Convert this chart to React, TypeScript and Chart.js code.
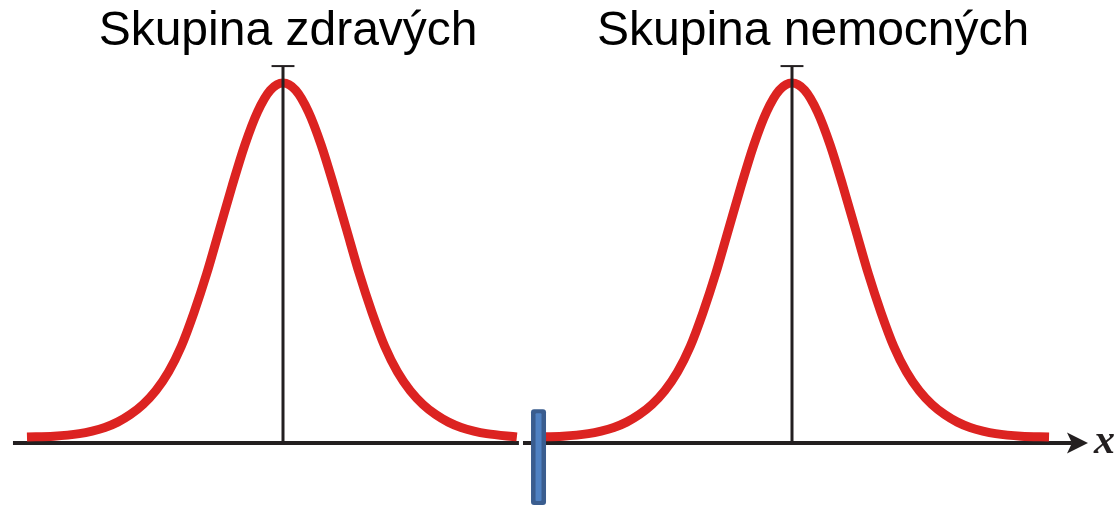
import React, { useEffect, useRef } from "react";
import { Chart, registerables } from "chart.js";

Chart.register(...registerables);

// ---- Data (x in arbitrary units, y = relative frequency, peak = 1) ----
const HEALTHY_X = [
  -0.06, 1, 2, 2.5, 3, 3.5, 4, 4.5, 5, 5.5, 6, 6.5, 7, 7.5, 8, 8.5, 9, 9.5, 10, 10.5, 11, 11.5, 12, 12.5, 13,
  13.5, 14, 14.5, 15, 15.5, 16, 16.5, 17, 17.5, 18, 19.19,
];
const HEALTHY_Y = [
  0.017, 0.019, 0.026, 0.033, 0.043, 0.058, 0.079, 0.107, 0.145, 0.197, 0.268, 0.362, 0.47, 0.592, 0.714, 0.828,
  0.92, 0.98, 1.0, 0.98, 0.92, 0.828, 0.714, 0.592, 0.47, 0.362, 0.268, 0.197, 0.145, 0.107, 0.079, 0.058, 0.043,
  0.033, 0.026, 0.017,
];
const SICK_X = [
  19.95, 21, 22, 22.5, 23, 23.5, 24, 24.5, 25, 25.5, 26, 26.5, 27, 27.5, 28, 28.5, 29, 29.5, 30, 30.5, 31, 31.5,
  32, 32.5, 33, 33.5, 34, 34.5, 35, 35.5, 36, 36.5, 37, 37.5, 38, 39, 40.1,
];
const SICK_Y = [
  0.017, 0.019, 0.026, 0.033, 0.043, 0.058, 0.079, 0.107, 0.145, 0.197, 0.268, 0.362, 0.47, 0.592, 0.714, 0.828,
  0.92, 0.98, 1.0, 0.98, 0.92, 0.828, 0.714, 0.592, 0.47, 0.362, 0.268, 0.197, 0.145, 0.107, 0.079, 0.058, 0.043,
  0.033, 0.026, 0.019, 0.017,
];
const MEANS = [10, 30];
const MEAN_LINE_TOP = 1.047;
const CAP_HALF = 0.45;
const TITLES = ["Skupina zdravých", "Skupina nemocných"];
const TITLE_X = [10.2, 30.83];
const CUTOFF = 20.04;
const MARKER_TOP = 0.094;
const MARKER_BOTTOM = -0.172;
const AXIS_SEGMENTS = [
  [-0.61, 19.27],
  [19.43, 41.0],
];
const ARROW_TIP = 41.63;
const AXIS_LABEL = "x";

// ---- Scale bounds ----
const X_MIN = -1.12;
const X_MAX = 42.849;
const Y_MAX = 443 / 360;
const Y_MIN = Y_MAX - 507 / 360;

const RED = "#dc2321";
const INK = "#231f20";

const toPoints = (xs: number[], ys: number[]) => xs.map((x, i) => ({ x, y: ys[i] }));

const decorPlugin = {
  id: "decor",
  beforeDatasetsDraw(chart: any) {
    const { ctx, scales } = chart;
    const xs = scales.x;
    const ys = scales.y;
    const y0 = ys.getPixelForValue(0);
    ctx.save();
    ctx.strokeStyle = INK;
    ctx.lineWidth = 4;
    ctx.lineCap = "butt";
    AXIS_SEGMENTS.forEach(([a, b]) => {
      ctx.beginPath();
      ctx.moveTo(xs.getPixelForValue(a), y0);
      ctx.lineTo(xs.getPixelForValue(b), y0);
      ctx.stroke();
    });
    const tip = xs.getPixelForValue(ARROW_TIP);
    ctx.fillStyle = INK;
    ctx.beginPath();
    ctx.moveTo(tip, y0);
    ctx.lineTo(tip - 21, y0 - 10.5);
    ctx.lineTo(tip - 16, y0);
    ctx.lineTo(tip - 21, y0 + 10.5);
    ctx.closePath();
    ctx.fill();
    ctx.restore();
  },
  afterDatasetsDraw(chart: any) {
    const { ctx, scales } = chart;
    const xs = scales.x;
    const ys = scales.y;
    ctx.save();
    // cutoff marker
    const cx = xs.getPixelForValue(CUTOFF);
    const top = ys.getPixelForValue(MARKER_TOP);
    const bottom = ys.getPixelForValue(MARKER_BOTTOM);
    ctx.fillStyle = "#3a5d8f";
    ctx.beginPath();
    (ctx as any).roundRect(cx - 7.5, top, 15, bottom - top, 3);
    ctx.fill();
    ctx.fillStyle = "#4f81c2";
    ctx.beginPath();
    (ctx as any).roundRect(cx - 3, top + 4, 6, bottom - top - 8, 1);
    ctx.fill();
    // titles
    ctx.fillStyle = "#000";
    ctx.font = "48px 'Liberation Sans', Arial, sans-serif";
    ctx.textAlign = "center";
    ctx.textBaseline = "alphabetic";
    TITLES.forEach((t, i) => {
      ctx.fillText(t, xs.getPixelForValue(TITLE_X[i]), 45);
    });
    // axis label
    const tip = xs.getPixelForValue(ARROW_TIP);
    const y0 = ys.getPixelForValue(0);
    ctx.font = "bold italic 42px 'Liberation Serif', 'Times New Roman', serif";
    ctx.textAlign = "left";
    ctx.fillStyle = INK;
    ctx.fillText(AXIS_LABEL, tip + 6, y0 + 10);
    ctx.restore();
  },
};

export default function App() {
  const canvasRef = useRef<HTMLCanvasElement | null>(null);

  useEffect(() => {
    const canvas = canvasRef.current;
    if (!canvas) return;
    const lineDs = (data: any[], order: number, color: string, width: number, smooth: boolean) => ({
      data,
      borderColor: color,
      borderWidth: width,
      pointRadius: 0,
      fill: false,
      order,
      borderCapStyle: "butt",
      borderJoinStyle: "round",
      cubicInterpolationMode: smooth ? "monotone" : "default",
      tension: 0,
    });
    const datasets: any[] = [
      lineDs(toPoints(HEALTHY_X, HEALTHY_Y), 2, RED, 9, true),
      lineDs(toPoints(SICK_X, SICK_Y), 2, RED, 9, true),
    ];
    MEANS.forEach((m) => {
      datasets.push(lineDs([{ x: m, y: 0 }, { x: m, y: MEAN_LINE_TOP }], 1, INK, 3, false));
      datasets.push(
        lineDs([{ x: m - CAP_HALF, y: MEAN_LINE_TOP }, { x: m + CAP_HALF, y: MEAN_LINE_TOP }], 1, INK, 2, false)
      );
    });
    const chart = new Chart(canvas, {
      type: "line",
      data: { datasets },
      options: {
        responsive: false,
        animation: false,
        devicePixelRatio: 1,
        events: [],
        layout: { padding: 0 },
        plugins: { legend: { display: false }, tooltip: { enabled: false }, title: { display: false } },
        scales: {
          x: { type: "linear", display: false, min: X_MIN, max: X_MAX },
          y: { type: "linear", display: false, min: Y_MIN, max: Y_MAX },
        },
      } as any,
      plugins: [decorPlugin],
    });
    return () => chart.destroy();
  }, []);

  return (
    <div style={{ position: "absolute", left: 0, top: 0, width: 1119, height: 507, background: "#fff" }}>
      <canvas ref={canvasRef} width={1119} height={507} style={{ display: "block" }} />
    </div>
  );
}
